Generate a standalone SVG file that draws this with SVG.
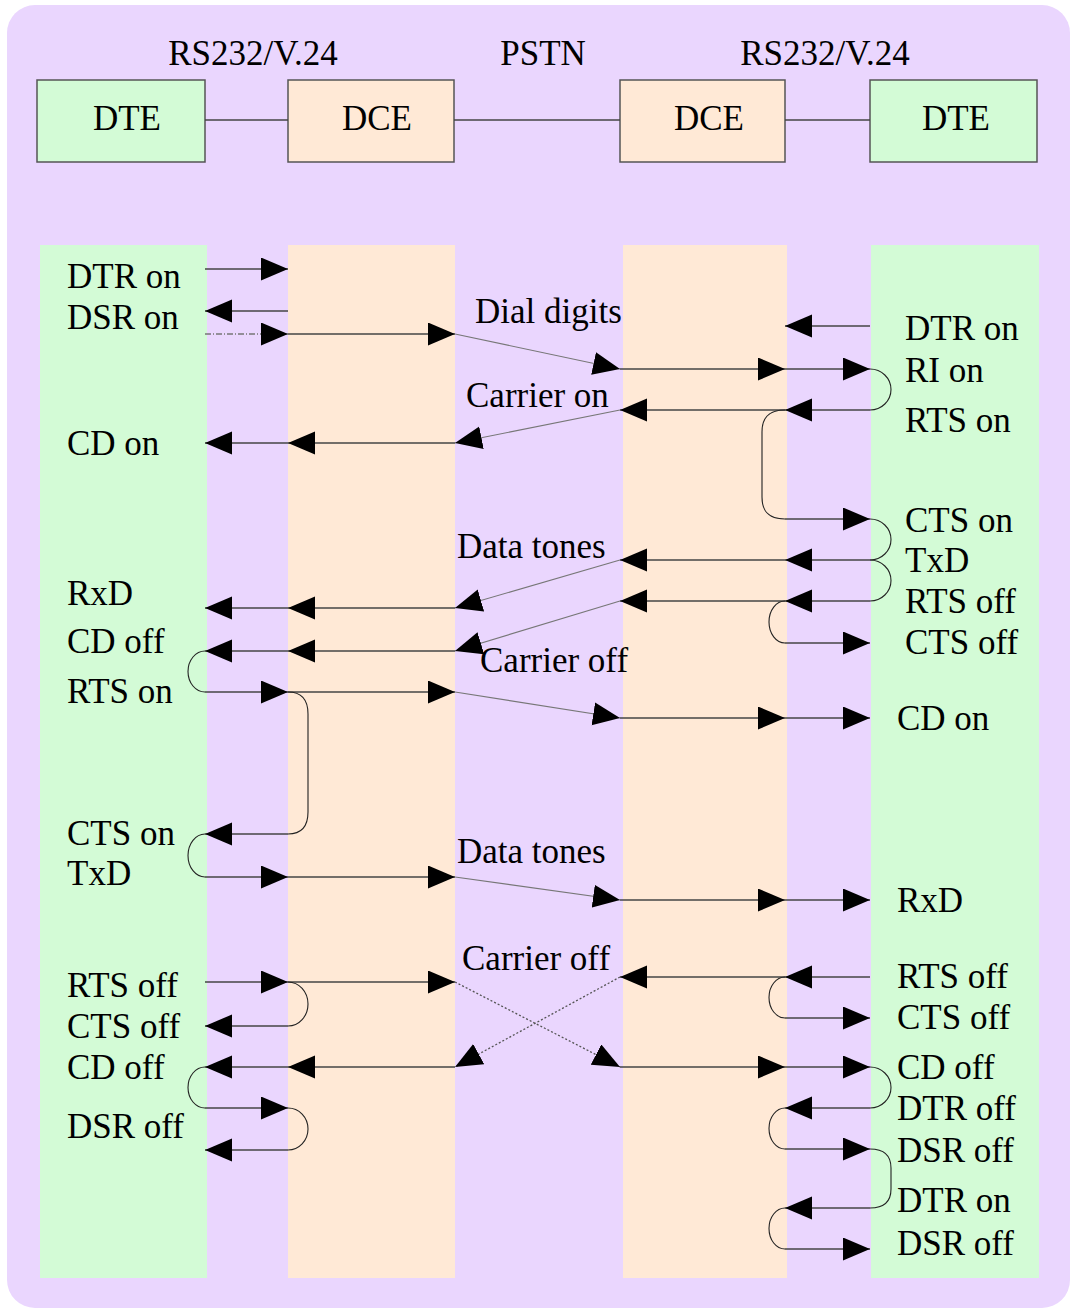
<svg xmlns="http://www.w3.org/2000/svg" width="1073" height="1310" viewBox="0 0 1073 1310">
<style>
text{font-family:"Liberation Serif","Times New Roman",serif;font-size:35px;fill:#000}
.box{stroke:#555;stroke-width:1.5}
.dte{fill:#d3fbd6}
.dce{fill:#ffe9d6}
.ln{stroke:#444;stroke-width:1.6;fill:none}
.dg{stroke:#777;stroke-width:1.1;fill:none}
.dot{stroke:#555;stroke-width:1.3;stroke-dasharray:2,2;fill:none}
.dd{stroke:#777;stroke-width:1.3;stroke-dasharray:6,2,1,2;fill:none}
.lp{stroke:#222;stroke-width:1.1;fill:none}
.mc{text-anchor:middle}
</style>
<defs>
<marker id="ah" markerUnits="userSpaceOnUse" markerWidth="28" markerHeight="24" refX="27" refY="11.5" orient="auto">
<path d="M0,0 L27,11.5 L0,23 z" fill="#000"/>
</marker>
</defs>
<rect x="7" y="5" width="1063" height="1303" rx="28" fill="#ead6fe"/>
<g id="labels-top">
<text x="253" y="65" class="mc">RS232/V.24</text>
<text x="543" y="65" class="mc">PSTN</text>
<text x="825" y="65" class="mc">RS232/V.24</text>
</g>
<g id="node-dte1"><rect class="box dte" x="37" y="80" width="168" height="82"/><text x="127" y="130" class="mc">DTE</text></g>
<g id="node-dce1"><rect class="box dce" x="288" y="80" width="166" height="82"/><text x="377" y="130" class="mc">DCE</text></g>
<g id="node-dce2"><rect class="box dce" x="620" y="80" width="165" height="82"/><text x="709" y="130" class="mc">DCE</text></g>
<g id="node-dte2"><rect class="box dte" x="870" y="80" width="167" height="82"/><text x="956" y="130" class="mc">DTE</text></g>
<g id="lanes">
<rect x="40" y="245" width="167" height="1033" class="dte"/>
<rect x="288" y="245" width="167" height="1033" class="dce"/>
<rect x="623" y="245" width="164" height="1033" class="dce"/>
<rect x="871" y="245" width="168" height="1033" class="dte"/>
</g>
<g id="connectors">
<line class="ln" x1="205" y1="120" x2="288" y2="120"/>
<line class="ln" x1="454" y1="120" x2="620" y2="120"/>
<line class="ln" x1="785" y1="120" x2="870" y2="120"/>
<g marker-end="url(#ah)">
<line class="ln" x1="205" y1="269" x2="288" y2="269"/>
<line class="ln" x1="288" y1="311" x2="205" y2="311"/>
<line class="dd" x1="205" y1="334" x2="288" y2="334"/>
<line class="ln" x1="288" y1="334" x2="455" y2="334"/>
<line class="dg" x1="455" y1="334" x2="620" y2="369"/>
<line class="ln" x1="620" y1="369" x2="785" y2="369"/>
<line class="ln" x1="785" y1="369" x2="870" y2="369"/>
<line class="ln" x1="870" y1="326" x2="785" y2="326"/>
<line class="ln" x1="870" y1="410" x2="785" y2="410"/>
<line class="ln" x1="785" y1="410" x2="620" y2="410"/>
<line class="dg" x1="620" y1="410" x2="455" y2="443"/>
<line class="ln" x1="455" y1="443" x2="288" y2="443"/>
<line class="ln" x1="288" y1="443" x2="205" y2="443"/>
<line class="ln" x1="785" y1="519" x2="870" y2="519"/>
<line class="ln" x1="870" y1="560" x2="785" y2="560"/>
<line class="ln" x1="785" y1="560" x2="620" y2="560"/>
<line class="dg" x1="620" y1="560" x2="455" y2="608"/>
<line class="ln" x1="455" y1="608" x2="288" y2="608"/>
<line class="ln" x1="288" y1="608" x2="205" y2="608"/>
<line class="ln" x1="870" y1="601" x2="785" y2="601"/>
<line class="ln" x1="785" y1="601" x2="620" y2="601"/>
<line class="dg" x1="620" y1="601" x2="455" y2="651"/>
<line class="ln" x1="455" y1="651" x2="288" y2="651"/>
<line class="ln" x1="288" y1="651" x2="205" y2="651"/>
<line class="ln" x1="785" y1="643" x2="870" y2="643"/>
<line class="ln" x1="205" y1="692" x2="288" y2="692"/>
<line class="ln" x1="288" y1="692" x2="455" y2="692"/>
<line class="dg" x1="455" y1="692" x2="620" y2="718"/>
<line class="ln" x1="620" y1="718" x2="785" y2="718"/>
<line class="ln" x1="785" y1="718" x2="870" y2="718"/>
<line class="ln" x1="288" y1="834" x2="205" y2="834"/>
<line class="ln" x1="205" y1="877" x2="288" y2="877"/>
<line class="ln" x1="288" y1="877" x2="455" y2="877"/>
<line class="dg" x1="455" y1="877" x2="620" y2="900"/>
<line class="ln" x1="620" y1="900" x2="785" y2="900"/>
<line class="ln" x1="785" y1="900" x2="870" y2="900"/>
<line class="ln" x1="205" y1="982" x2="288" y2="982"/>
<line class="ln" x1="288" y1="982" x2="455" y2="982"/>
<line class="dot" x1="455" y1="982" x2="620" y2="1067"/>
<line class="ln" x1="288" y1="1026" x2="205" y2="1026"/>
<line class="ln" x1="455" y1="1067" x2="288" y2="1067"/>
<line class="ln" x1="288" y1="1067" x2="205" y2="1067"/>
<line class="dot" x1="620" y1="977" x2="455" y2="1067"/>
<line class="ln" x1="205" y1="1108" x2="288" y2="1108"/>
<line class="ln" x1="288" y1="1150" x2="205" y2="1150"/>
<line class="ln" x1="870" y1="977" x2="785" y2="977"/>
<line class="ln" x1="785" y1="977" x2="620" y2="977"/>
<line class="ln" x1="785" y1="1018" x2="870" y2="1018"/>
<line class="ln" x1="620" y1="1067" x2="785" y2="1067"/>
<line class="ln" x1="785" y1="1067" x2="870" y2="1067"/>
<line class="ln" x1="870" y1="1108" x2="785" y2="1108"/>
<line class="ln" x1="785" y1="1149" x2="870" y2="1149"/>
<line class="ln" x1="870" y1="1208" x2="785" y2="1208"/>
<line class="ln" x1="785" y1="1249" x2="870" y2="1249"/>
</g>
<g id="loops">
<path class="lp" d="M870,369 A21,20.5 0 0 1 870,410"/>
<path class="lp" d="M785,410 C768,410 762,418 762,432 L762,497 C762,511 768,519 785,519"/>
<path class="lp" d="M870,519 A21,20.5 0 0 1 870,560"/>
<path class="lp" d="M870,560 A21,20.5 0 0 1 870,601"/>
<path class="lp" d="M785,601 A16,21 0 0 0 785,643"/>
<path class="lp" d="M205,651 A17,20.5 0 0 0 205,692"/>
<path class="lp" d="M288,692 C302,692 308,700 308,714 L308,812 C308,826 302,834 288,834"/>
<path class="lp" d="M205,834 A17,21.5 0 0 0 205,877"/>
<path class="lp" d="M288,982 A20,22 0 0 1 288,1026"/>
<path class="lp" d="M205,1067 A17,20.5 0 0 0 205,1108"/>
<path class="lp" d="M288,1108 A20,21 0 0 1 288,1150"/>
<path class="lp" d="M785,977 A16,20.5 0 0 0 785,1018"/>
<path class="lp" d="M870,1067 A21,20.5 0 0 1 870,1108"/>
<path class="lp" d="M785,1108 A16,20.5 0 0 0 785,1149"/>
<path class="lp" d="M870,1149 C884,1149 891,1156 891,1168 L891,1189 C891,1201 884,1208 870,1208"/>
<path class="lp" d="M785,1208 A16,20.5 0 0 0 785,1249"/>
</g>
</g>
<g id="labels-left">
<text x="67" y="288">DTR on</text>
<text x="67" y="329">DSR on</text>
<text x="67" y="455">CD on</text>
<text x="67" y="605">RxD</text>
<text x="67" y="653">CD off</text>
<text x="67" y="703">RTS on</text>
<text x="67" y="845">CTS on</text>
<text x="67" y="885">TxD</text>
<text x="67" y="997">RTS off</text>
<text x="67" y="1038">CTS off</text>
<text x="67" y="1079">CD off</text>
<text x="67" y="1138">DSR off</text>
</g>
<g id="labels-mid">
<text x="475" y="323">Dial digits</text>
<text x="466" y="407">Carrier on</text>
<text x="457" y="558">Data tones</text>
<text x="480" y="672">Carrier off</text>
<text x="457" y="863">Data tones</text>
<text x="462" y="970">Carrier off</text>
</g>
<g id="labels-right">
<text x="905" y="340">DTR on</text>
<text x="905" y="382">RI on</text>
<text x="905" y="432">RTS on</text>
<text x="905" y="532">CTS on</text>
<text x="905" y="572">TxD</text>
<text x="905" y="613">RTS off</text>
<text x="905" y="654">CTS off</text>
<text x="897" y="730">CD on</text>
<text x="897" y="912">RxD</text>
<text x="897" y="988">RTS off</text>
<text x="897" y="1029">CTS off</text>
<text x="897" y="1079">CD off</text>
<text x="897" y="1120">DTR off</text>
<text x="897" y="1162">DSR off</text>
<text x="897" y="1212">DTR on</text>
<text x="897" y="1255">DSR off</text>
</g>
</svg>
